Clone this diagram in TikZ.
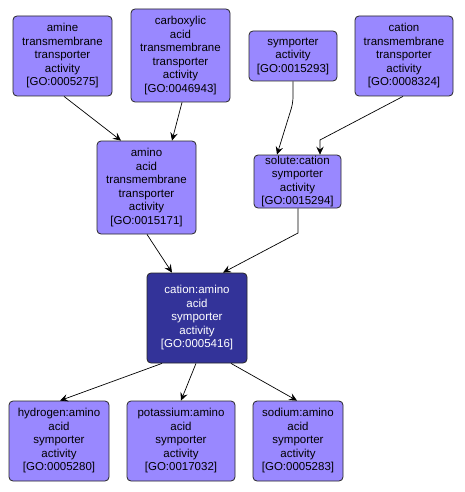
\documentclass[tikz,border=0pt]{standalone}
\usepackage{fontspec}
\setmainfont{Liberation Sans}
\usetikzlibrary{arrows.meta}
\definecolor{lightgo}{RGB}{153,136,255}
\definecolor{darkgo}{RGB}{51,51,153}
\tikzset{
  gobox/.style={draw=black!85, line width=0.8pt, rounded corners=4pt, fill=lightgo,
    align=center, inner sep=0pt, text=black,
    font=\fontsize{11.5}{13.5}\selectfont},
  gofocus/.style={gobox, fill=darkgo, text=white},
  goedge/.style={draw=black, line width=0.7pt, -{Stealth[length=8pt,width=7.5pt,inset=3pt]}}
}
\begin{document}
\begin{tikzpicture}[x=1pt,y=-1pt]
\useasboundingbox (0,0) rectangle (464,492);
\fill[white] (0,0) rectangle (464,492);
\node[gobox, minimum width=99pt, minimum height=80pt] (A) at (62.5,56) {amine\\transmembrane\\transporter\\activity\\{[GO:0005275]}};
\node[gobox, minimum width=99pt, minimum height=93pt] (B) at (180.5,55.5) {carboxylic\\acid\\transmembrane\\transporter\\activity\\{[GO:0046943]}};
\node[gobox, minimum width=99pt, minimum height=93pt] (C) at (146.5,187.5) {amino\\acid\\transmembrane\\transporter\\activity\\{[GO:0015171]}};
\node[gobox, minimum width=88pt, minimum height=50pt] (D) at (293,56) {symporter\\activity\\{[GO:0015293]}};
\node[gobox, minimum width=98pt, minimum height=80pt] (E) at (404,56) {cation\\transmembrane\\transporter\\activity\\{[GO:0008324]}};
\node[gobox, minimum width=87pt, minimum height=53pt] (F) at (297.5,181.5) {solute:cation\\symporter\\activity\\{[GO:0015294]}};
\node[gofocus, minimum width=100pt, minimum height=90pt] (G) at (197,318) {cation:amino\\acid\\symporter\\activity\\{[GO:0005416]}};
\node[gobox, minimum width=100pt, minimum height=80pt] (H) at (59,441) {hydrogen:amino\\acid\\symporter\\activity\\{[GO:0005280]}};
\node[gobox, minimum width=108pt, minimum height=80pt] (I) at (181,441) {potassium:amino\\acid\\symporter\\activity\\{[GO:0017032]}};
\node[gobox, minimum width=90pt, minimum height=80pt] (J) at (298,441) {sodium:amino\\acid\\symporter\\activity\\{[GO:0005283]}};
\coordinate (d1) at (293,103);
\coordinate (e1) at (320,140);
\coordinate (f1) at (298,233);
\draw[goedge] ([xshift=1.5pt]A.south) -- ([xshift=-25.5pt]C.north);
\draw[goedge] ([xshift=1.5pt]B.south) -- ([xshift=25.5pt]C.north);
\draw[goedge, rounded corners=6pt] (D.south) -- (d1) -- ([xshift=-20.5pt]F.north);
\draw[goedge] ([xshift=-1pt]E.south) -- (e1) -- ([xshift=22.5pt]F.north);
\draw[goedge] ([xshift=0.5pt]F.south) -- (f1) -- ([xshift=26pt]G.north);
\draw[goedge] ([xshift=0.5pt]C.south) -- ([xshift=-25pt]G.north);
\draw[goedge] ([xshift=-35pt]G.south) -- ([xshift=1pt]H.north);
\draw[goedge] ([xshift=-1pt]G.south) -- (I.north);
\draw[goedge] ([xshift=34pt]G.south) -- ([xshift=-1pt]J.north);
\end{tikzpicture}
\end{document}
